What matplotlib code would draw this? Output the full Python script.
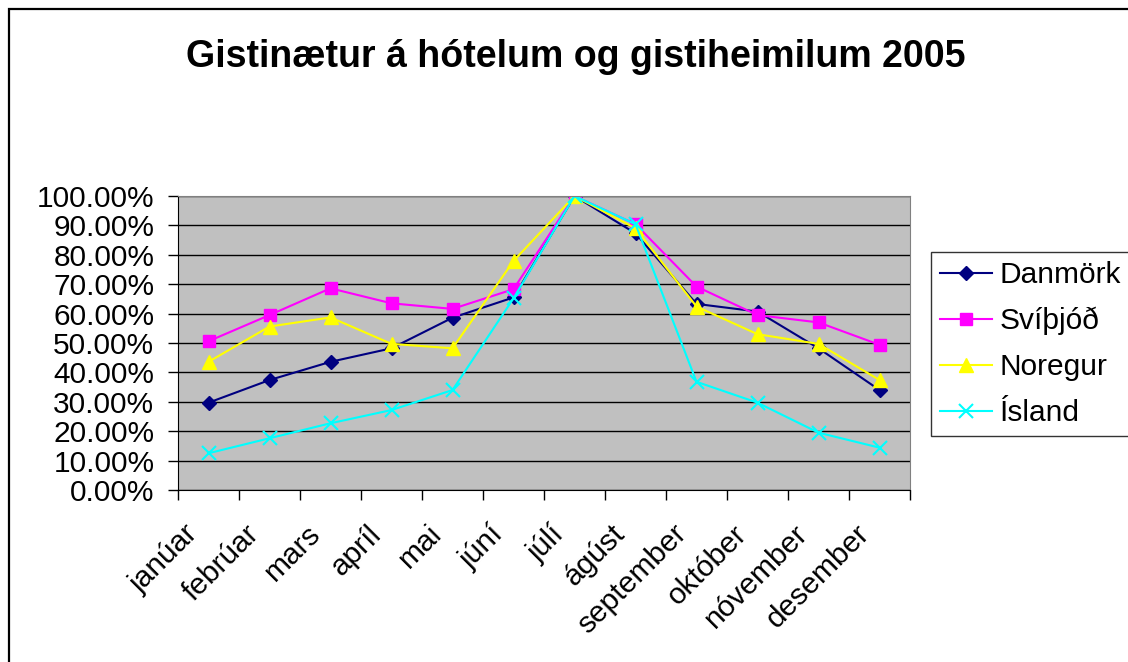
import numpy as np
import matplotlib.pyplot as plt
from matplotlib.patches import Rectangle
from matplotlib.ticker import FuncFormatter

months = ['janúar', 'febrúar', 'mars', 'apríl', 'mai', 'júní', 'júlí',
          'ágúst', 'september', 'október', 'nóvember', 'desember']

danmork = [29.7, 37.4, 43.6, 48.2, 58.6, 65.5, 100.0, 87.3, 63.3, 60.7, 48.2, 34.0]
svithjod = [50.6, 59.5, 68.6, 63.5, 61.6, 68.3, 100.0, 90.4, 69.2, 59.5, 57.0, 49.4]
noregur = [43.6, 55.6, 58.7, 49.7, 48.2, 77.9, 100.0, 89.0, 62.4, 53.0, 49.7, 37.4]
island = [12.5, 17.6, 22.7, 27.2, 34.0, 65.2, 100.0, 90.4, 36.8, 29.7, 19.5, 14.4]

plt.rcParams['font.family'] = ['Liberation Sans', 'DejaVu Sans']

W, H = 1128, 662
fig = plt.figure(figsize=(W / 100, H / 100), dpi=100)
fig.patch.set_facecolor('white')

# outer chart frame (runs off the right/bottom edge)
fig.patches.append(Rectangle((9 / W, -0.1), 1.2, 1 - 9 / H + 0.1,
                             transform=fig.transFigure, fill=False,
                             edgecolor='black', linewidth=1.6))

ax = fig.add_axes([178 / W, 1 - 490 / H, (910 - 178) / W, (490 - 196) / H])
ax.set_facecolor('#C0C0C0')

x = np.arange(len(months))
ax.plot(x, danmork, color='#000080', marker='D', markersize=7, linewidth=1.5, label='Danmörk')
ax.plot(x, svithjod, color='#FF00FF', marker='s', markersize=8, linewidth=1.5, label='Svíþjóð')
ax.plot(x, noregur, color='#FFFF00', marker='^', markersize=10, linewidth=1.5, label='Noregur')
ax.plot(x, island, color='#00FFFF', marker='x', markersize=10, markeredgewidth=1.5,
        linewidth=1.5, label='Ísland')

ax.set_xlim(-0.5, len(months) - 0.5)
ax.set_ylim(0, 100)
ax.set_yticks(np.arange(0, 101, 10))
ax.yaxis.set_major_formatter(FuncFormatter(lambda v, p: f'{v:.2f}%'))
ax.yaxis.grid(True, color='black', linewidth=1)
ax.set_axisbelow(True)

# category boundaries get the tick marks, labels sit under the centres
ax.set_xticks(np.arange(-0.5, len(months), 1))
ax.set_xticklabels([])
ax.tick_params(axis='x', length=7, direction='out', width=1)
ax.tick_params(axis='y', length=7, direction='out', labelsize=21.5, pad=10, width=1)
for i, m in enumerate(months):
    ax.annotate(m, xy=(i, 0), xycoords=('data', 'axes fraction'),
                xytext=(-10.5, -28.5), textcoords='offset points',
                rotation=45, ha='right', va='center', rotation_mode='anchor',
                fontsize=21.5)

for s in ['top', 'right']:
    ax.spines[s].set_color('#808080')
for s in ['left', 'bottom']:
    ax.spines[s].set_color('black')

fig.text(576 / W, 1 - 57 / H, 'Gistinætur á hótelum og gistiheimilum 2005',
         ha='center', va='center', fontsize=27, fontweight='bold')

leg = fig.legend(loc='upper left', bbox_to_anchor=(931 / W, 1 - 252 / H),
                 fontsize=21.5, frameon=True, fancybox=False, edgecolor='black',
                 borderpad=0.3, labelspacing=0.6, handlelength=1.75,
                 handletextpad=0.25, borderaxespad=0)
leg.get_frame().set_linewidth(1)

fig.savefig('out.png', dpi=100)
